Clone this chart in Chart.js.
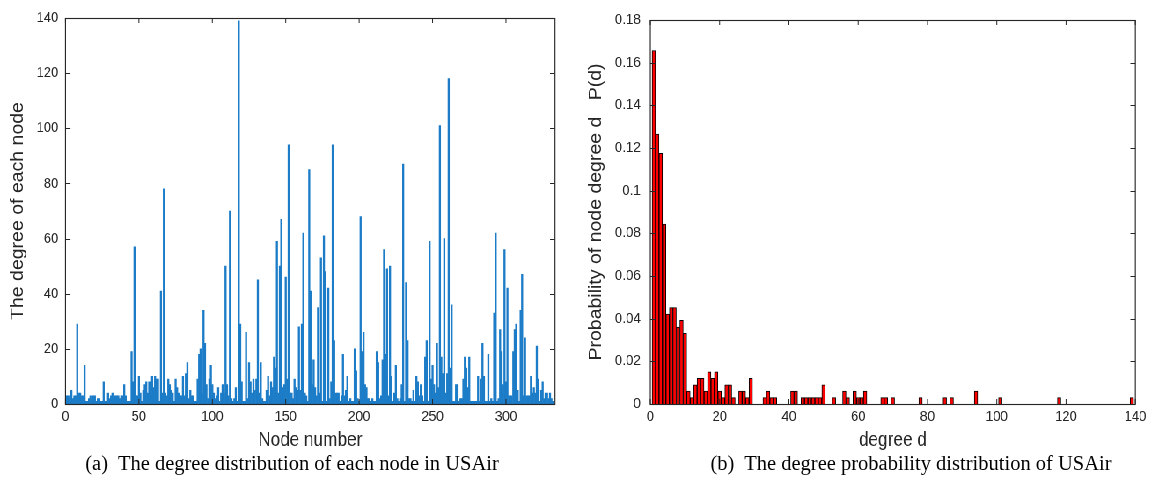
<!DOCTYPE html>
<html>
<head>
<meta charset="utf-8">
<script src="https://cdn.jsdelivr.net/npm/chart.js@4.4.1/dist/chart.umd.min.js"></script>
<style>
  body { margin: 0; background: #fff; width: 1151px; height: 477px; overflow: hidden; position: relative; }
  #wrap { position: absolute; left: 0; top: 0; height: 455px; transform-origin: 0 0; }
  canvas { position: absolute; top: 0; }
  .cap { position: absolute; top: 451px; font-family: "Liberation Serif", "Times New Roman", serif;
         font-size: 20.5px; line-height: 24px; white-space: nowrap; color: #000; transform: translateX(-50%); }
</style>
</head>
<body>
<div id="wrap">
  <canvas id="nodeChart"></canvas>
  <canvas id="probChart"></canvas>
</div>
<div class="cap" id="capA">(a)&nbsp; The degree distribution of each node in USAir</div>
<div class="cap" id="capB">(b)&nbsp; The degree probability distribution of USAir</div>
<script>
// degree of each node, node 1..332
const nodeDegree = [
  3, 3, 2, 5, 2, 3, 3, 29, 4, 4,
  3, 3, 14, 1, 1, 2, 3, 1, 3, 3,
  1, 2, 2, 1, 1, 8, 1, 1, 4, 2,
  3, 4, 2, 3, 3, 3, 2, 3, 3, 7,
  3, 1, 1, 1, 19, 8, 57, 3, 3, 10,
  4, 1, 5, 7, 8, 4, 8, 8, 10, 6,
  10, 9, 9, 1, 41, 4, 78, 4, 3, 9,
  7, 5, 4, 1, 9, 6, 4, 3, 3, 10,
  3, 11, 15, 2, 5, 3, 3, 1, 1, 9,
  18, 20, 4, 34, 22, 7, 2, 9, 14, 7,
  4, 2, 3, 6, 1, 4, 7, 4, 50, 7,
  3, 70, 2, 1, 2, 6, 1, 139, 29, 8,
  1, 1, 26, 2, 15, 8, 4, 9, 5, 9,
  45, 4, 15, 2, 1, 1, 5, 10, 3, 8,
  6, 17, 13, 59, 4, 50, 67, 6, 7, 46,
  9, 94, 4, 4, 2, 9, 6, 5, 28, 5,
  29, 62, 4, 3, 1, 85, 41, 7, 16, 6,
  3, 35, 4, 53, 1, 61, 48, 1, 42, 2,
  8, 94, 23, 4, 4, 4, 1, 3, 18, 3,
  5, 10, 1, 2, 1, 1, 20, 12, 2, 1,
  68, 19, 26, 7, 6, 2, 2, 1, 2, 1,
  1, 19, 15, 2, 3, 16, 56, 18, 49, 3,
  50, 10, 1, 4, 14, 2, 1, 2, 7, 87,
  1, 44, 23, 2, 2, 1, 5, 1, 10, 8,
  3, 7, 3, 1, 17, 23, 1, 59, 9, 14,
  7, 4, 22, 6, 101, 17, 11, 60, 4, 11,
  118, 13, 36, 1, 1, 7, 7, 1, 2, 2,
  9, 17, 13, 6, 17, 1, 1, 1, 1, 1,
  10, 1, 9, 22, 10, 1, 1, 18, 1, 2,
  1, 33, 62, 1, 2, 27, 19, 7, 56, 8,
  42, 3, 3, 3, 19, 27, 29, 5, 1, 34,
  47, 3, 24, 3, 3, 3, 10, 4, 6, 4,
  21, 9, 1, 5, 8, 2, 4, 4, 2, 4, 2, 1
];

// degree d and P(d)
const degreeValues = [1, 2, 3, 4, 5, 6, 7, 8, 9, 10,
  11, 12, 13, 14, 15, 16, 17, 18, 19, 20, 21, 22, 23, 24,
  26, 27, 28, 29, 33, 34, 35, 36, 41, 42,
  44, 45, 46, 47, 48, 49, 50, 53, 56, 57, 59, 60, 61, 62,
  67, 68, 70, 78, 85, 87, 94, 101, 118, 139];
const degreeProb = [0.1657, 0.1265, 0.1175, 0.0843, 0.0422, 0.0452, 0.0452, 0.0361, 0.0392, 0.0331,
  0.0060, 0.0030, 0.0090, 0.0120, 0.0120, 0.0060, 0.0151, 0.0120, 0.0151, 0.0060, 0.0030, 0.0090, 0.0090, 0.0030,
  0.0060, 0.0060, 0.0030, 0.0120, 0.0030, 0.0060, 0.0030, 0.0030, 0.0060, 0.0060,
  0.0030, 0.0030, 0.0030, 0.0030, 0.0030, 0.0030, 0.0090, 0.0030, 0.0060, 0.0030, 0.0060, 0.0030, 0.0030, 0.0060,
  0.0030, 0.0030, 0.0030, 0.0030, 0.0030, 0.0030, 0.0060, 0.0030, 0.0030, 0.0030];

// tick labels
const nodeTicks = [0, 50, 100, 150, 200, 250, 300];
const nodeDegreeTicks = [0, 20, 40, 60, 80, 100, 120, 140];
const degreeTicks = [0, 20, 40, 60, 80, 100, 120, 140];
const probTicks = [0, 0.02, 0.04, 0.06, 0.08, 0.1, 0.12, 0.14, 0.16, 0.18];

// the matlab figure is squeezed sideways a bit
const SX = 0.88;
const H = 455;
const axisColor = '#262626';
const sansFont = '"Liberation Sans", Arial, Helvetica, sans-serif';
const tickFont = { family: sansFont, size: 15 };
const titleFont = { family: sansFont, size: 19.5 };

document.getElementById('wrap').style.transform = 'scaleX(' + SX + ')';
document.getElementById('wrap').style.width = (1151 / SX) + 'px';

// box + inward ticks, like matlab's "box on"
const boxPlugin = {
  id: 'matlabBox',
  afterDraw(chart) {
    const { ctx, chartArea: a, scales } = chart;
    const tlen = 5;
    ctx.save();
    ctx.strokeStyle = axisColor;
    ctx.lineWidth = 1 / SX;
    ctx.strokeRect(a.left, a.top + 0.5, a.right - a.left, a.bottom - a.top);
    ctx.lineWidth = 1;
    ctx.beginPath();
    scales.x.ticks.forEach(t => {
      const p = scales.x.getPixelForValue(t.value);
      ctx.moveTo(p, a.bottom); ctx.lineTo(p, a.bottom - tlen);
      ctx.moveTo(p, a.top); ctx.lineTo(p, a.top + tlen);
    });
    scales.y.ticks.forEach(t => {
      const p = Math.round(scales.y.getPixelForValue(t.value)) + 0.5;
      ctx.moveTo(a.left, p); ctx.lineTo(a.left + tlen / SX, p);
      ctx.moveTo(a.right, p); ctx.lineTo(a.right - tlen / SX, p);
    });
    ctx.stroke();
    ctx.restore();
  }
};

// canvas spanning page x pageLeft..pageRight (in unsqueezed units)
function setupCanvas(id, pageLeft, pageRight) {
  const c = document.getElementById(id);
  c.width = Math.round((pageRight - pageLeft) / SX);
  c.height = H;
  c.style.left = (pageLeft / SX) + 'px';
  return c;
}

function makeChart(canvas, pageLeft, box, data, bar, xOpts, yOpts) {
  const yWidth = box.left / SX - pageLeft / SX;
  const rightPad = canvas.width - (box.right / SX - pageLeft / SX);
  return new Chart(canvas, {
    type: 'bar',
    data: { datasets: [Object.assign({ data: data }, bar)] },
    options: {
      responsive: false,
      animation: false,
      events: [],
      layout: { padding: { left: 0, top: box.top, right: rightPad, bottom: 0 } },
      plugins: { legend: { display: false }, tooltip: { enabled: false } },
      scales: {
        x: Object.assign({
          type: 'linear',
          offset: false,
          grid: { display: false, drawTicks: false },
          border: { display: false },
          ticks: { color: axisColor, font: tickFont, padding: 4, maxRotation: 0, autoSkip: false },
          afterFit: s => { s.height = H - box.bottom; }
        }, xOpts),
        y: Object.assign({
          type: 'linear',
          grid: { display: false, drawTicks: false },
          border: { display: false },
          afterFit: s => { s.width = yWidth; }
        }, yOpts)
      }
    },
    plugins: [boxPlugin]
  });
}

// (a) degree of each node
const boxA = { left: 65.5, right: 555, top: 18, bottom: 404 };
const canvasA = setupCanvas('nodeChart', 0, 575);
makeChart(canvasA, 0, boxA,
  nodeDegree.map((d, i) => ({ x: i + 1, y: d })),
  { backgroundColor: '#1c7cc7', borderWidth: 0, barPercentage: 1, categoryPercentage: 1 },
  {
    min: 0, max: 333.4,
    afterBuildTicks: s => { s.ticks = nodeTicks.map(v => ({ value: v })); },
    title: { display: true, text: 'Node number', color: axisColor, font: titleFont, padding: { top: 0, bottom: 3 } }
  },
  {
    min: 0, max: 140,
    afterBuildTicks: s => { s.ticks = nodeDegreeTicks.map(v => ({ value: v })); },
    ticks: { color: axisColor, font: tickFont, padding: 8 },
    title: { display: true, text: 'The degree of each node', color: axisColor, font: titleFont, padding: { top: 9, bottom: 0 } }
  });

// (b) degree probability
const boxB = { left: 650.7, right: 1135.7, top: 18, bottom: 404 };
const canvasB = setupCanvas('probChart', 575, 1151);
makeChart(canvasB, 575, boxB,
  degreeValues.map((d, i) => ({ x: d, y: degreeProb[i] })),
  { backgroundColor: '#ff0000', borderColor: '#000', borderWidth: 1, barPercentage: 1, categoryPercentage: 1 },
  {
    min: 0, max: 140,
    afterBuildTicks: s => { s.ticks = degreeTicks.map(v => ({ value: v })); },
    title: { display: true, text: 'degree d', color: axisColor, font: titleFont, padding: { top: 0, bottom: 3 } }
  },
  {
    min: 0, max: 0.18,
    afterBuildTicks: s => { s.ticks = probTicks.map(v => ({ value: v })); },
    ticks: { color: axisColor, font: tickFont, padding: 11, callback: v => String(+v.toFixed(2)) },
    title: { display: true, text: 'Probability of node degree d   P(d)', color: axisColor, font: titleFont, padding: { top: 13, bottom: 0 } }
  });

document.getElementById('capA').style.left = '292px';
document.getElementById('capB').style.left = '911px';
</script>
</body>
</html>
